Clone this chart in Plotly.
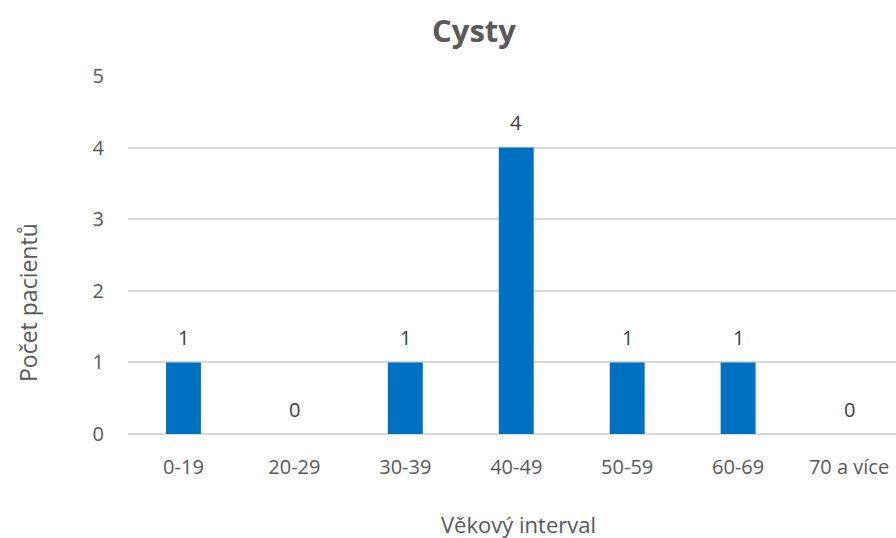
import plotly.graph_objects as go

# Age groups and patient counts
categories = ["0-19", "20-29", "30-39", "40-49", "50-59", "60-69", "70 a více"]
counts = [1, 0, 1, 4, 1, 1, 0]
y_ticks = [0, 1, 2, 3, 4, 5]

W, H = 896, 538
left, top, bottom = 128, 76, 104
step = 111.0  # pixel width of one category slot
x_max = (W - (left - 0.5)) / step - 0.5
plot_h = H - top - bottom

FONT = "Open Sans"
GREY = "#595959"

fig = go.Figure()
fig.add_trace(go.Bar(
    x=list(range(len(categories))),
    y=counts,
    width=0.315,
    marker=dict(color="#0070C0", line=dict(width=0)),
    hoverinfo="skip",
))

# value labels sitting above each bar
labels = [
    dict(x=i, y=v, text=str(v), xref="x", yref="y", showarrow=False,
         yanchor="middle", yshift=25,
         font=dict(family=FONT, size=20, color="#404040"))
    for i, v in enumerate(counts)
]

# axis titles placed in plot-relative coordinates
labels.append(dict(text="Věkový interval", xref="paper", yref="paper",
                   x=(518 - left) / (W - left), y=(434 - 524) / plot_h,
                   showarrow=False, xanchor="center", yanchor="middle",
                   font=dict(family=FONT, size=22, color=GREY)))
labels.append(dict(text="Počet pacientů", xref="paper", yref="paper",
                   x=(28 - left) / (W - left), y=(434 - 303) / plot_h,
                   textangle=-90, showarrow=False,
                   xanchor="center", yanchor="middle",
                   font=dict(family=FONT, size=23, color=GREY)))

fig.update_layout(
    width=W, height=H,
    margin=dict(l=left, r=0, t=top, b=bottom),
    paper_bgcolor="white",
    plot_bgcolor="white",
    showlegend=False,
    font=dict(family=FONT, color=GREY),
    title=dict(
        text="<b>Cysty</b>",
        x=474 / W, xref="container", xanchor="center",
        y=1 - 31 / H, yref="container", yanchor="middle",
        font=dict(family=FONT, size=31, color=GREY),
    ),
    xaxis=dict(
        range=[-0.5, x_max],
        tickmode="array",
        tickvals=list(range(len(categories))),
        ticktext=categories,
        showgrid=False,
        zeroline=False,
        showline=False,
        ticks="",
        ticklabelstandoff=19,
        tickfont=dict(family=FONT, size=20, color=GREY),
        fixedrange=True,
    ),
    yaxis=dict(
        range=[0, 5],
        tickmode="array",
        tickvals=y_ticks,
        showgrid=True,
        gridcolor="#D9D9D9",
        gridwidth=1.5,
        zeroline=True,
        zerolinecolor="#D9D9D9",
        zerolinewidth=1.5,
        showline=False,
        ticks="",
        ticklabelstandoff=23,
        tickfont=dict(family=FONT, size=20, color=GREY),
        fixedrange=True,
    ),
    annotations=labels,
)

fig.write_html("out.html")
